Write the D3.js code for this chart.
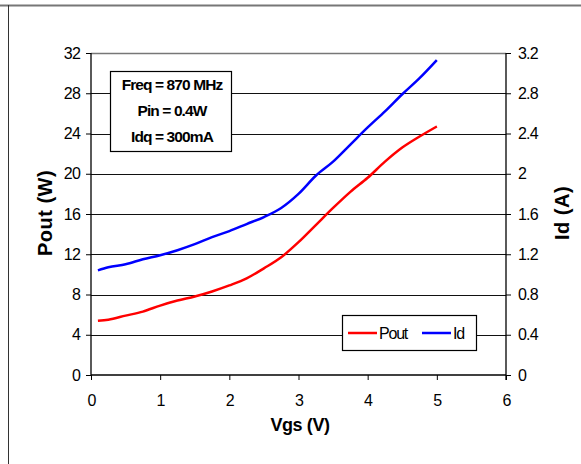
<!DOCTYPE html>
<html>
<head>
<meta charset="utf-8">
<script src="https://d3js.org/d3.v7.min.js"></script>
<style>
body { margin: 0; background: #fff; }
text { font-family: "Liberation Sans", Arial, sans-serif; fill: #000; }
</style>
</head>
<body>
<script>
// Vgs (V) sweep
var vgs  = [0.1, 0.25, 0.5, 0.75, 1.0, 1.25, 1.5, 1.75, 2.0, 2.25, 2.5, 2.75, 3.0, 3.25, 3.5, 3.75, 4.0, 4.25, 4.5, 4.75, 5.0];
// output power, W
var pout = [5.4, 5.5, 5.9, 6.3, 6.9, 7.4, 7.8, 8.3, 8.9, 9.6, 10.6, 11.7, 13.2, 14.9, 16.6, 18.2, 19.6, 21.2, 22.6, 23.7, 24.7];
// drain current, A
var id   = [1.04, 1.07, 1.10, 1.15, 1.19, 1.24, 1.30, 1.37, 1.43, 1.50, 1.57, 1.66, 1.80, 1.98, 2.12, 2.29, 2.46, 2.62, 2.79, 2.95, 3.13];

var xTicks = [0, 1, 2, 3, 4, 5, 6];
var yTicks = [0, 4, 8, 12, 16, 20, 24, 28, 32];
var y2Ticks = [0, 0.4, 0.8, 1.2, 1.6, 2, 2.4, 2.8, 3.2];
var notes = ["Freq = 870 MHz", "Pin = 0.4W", "Idq = 300mA"];
var seriesNames = ["Pout", "Id"];
var seriesColors = ["#ff0000", "#0000ff"];

function draw() {
  "use strict";
  var W = 581, H = 464;
  var pl = 91, pr = 506, pt = 53, pb = 375;

  var svg = d3.select("body").append("svg").attr("width", W).attr("height", H);

  // outer frame pieces
  svg.append("line").attr("x1", 0).attr("x2", W).attr("y1", 5.5).attr("y2", 5.5)
    .attr("stroke", "#777").attr("stroke-width", 2);
  svg.append("line").attr("x1", 8.5).attr("x2", 8.5).attr("y1", 5).attr("y2", H)
    .attr("stroke", "#333").attr("stroke-width", 1);

  var x = d3.scaleLinear().domain([0, 6]).range([pl, pr]);
  var y = d3.scaleLinear().domain([0, 32]).range([pb, pt]);
  var y2 = d3.scaleLinear().domain([0, 3.2]).range([pb, pt]);

  /* gridlines */
  svg.append("g").selectAll("line").data(yTicks.slice(1)).enter().append("line")
    .attr("x1", pl).attr("x2", pr)
    .attr("y1", function(d) { return Math.round(y(d)) + 0.5; })
    .attr("y2", function(d) { return Math.round(y(d)) + 0.5; })
    .attr("stroke", function(d) { return d === 32 ? "#777" : "#111"; })
    .attr("stroke-width", function(d) { return d === 32 ? 1.5 : 1; });

  /* axes */
  var gx = svg.append("g").attr("transform", "translate(0," + pb + ")")
    .call(d3.axisBottom(x).tickValues(xTicks).tickSize(5).tickPadding(15).tickFormat(d3.format("d")));
  var gy = svg.append("g").attr("transform", "translate(" + pl + ",0)")
    .call(d3.axisLeft(y).tickValues(yTicks).tickSize(5).tickPadding(6).tickFormat(d3.format("d")));
  var gy2 = svg.append("g").attr("transform", "translate(" + pr + ",0)")
    .call(d3.axisRight(y2).tickValues(y2Ticks).tickSize(5).tickPadding(7).tickFormat(function(d) { return String(d); }));

  [gx, gy, gy2].forEach(function(g) {
    g.attr("font-size", null).attr("font-family", null);
    g.select(".domain").attr("stroke", "#000").attr("stroke-width", 1.3);
    g.selectAll(".tick line").attr("stroke", "#000");
    g.selectAll(".tick text").style("font-size", "16px").attr("fill", "#000").attr("letter-spacing", "-0.8px");
  });
  gx.select(".domain").attr("d", "M" + pl + ",0H" + pr);
  gy.select(".domain").attr("d", "M0," + pt + "V" + pb);
  gy2.select(".domain").attr("d", "M0," + pt + "V" + (pb + 5));

  /* series */
  var line = function(vals, scale) {
    return d3.line()
      .x(function(d, i) { return x(vgs[i]); })
      .y(function(d) { return scale(d); })
      .curve(d3.curveMonotoneX)(vals);
  };
  svg.append("path").attr("d", line(pout, y)).attr("fill", "none")
    .attr("stroke", seriesColors[0]).attr("stroke-width", 2.5);
  svg.append("path").attr("d", line(id, y2)).attr("fill", "none")
    .attr("stroke", seriesColors[1]).attr("stroke-width", 2.5);

  /* axis titles */
  svg.append("text").attr("x", 300).attr("y", 431).attr("text-anchor", "middle")
    .style("font-size", "18px").style("font-weight", "bold").attr("letter-spacing", "-0.4px")
    .text("Vgs (V)");
  svg.append("text").attr("transform", "translate(52,213) rotate(-90)").attr("text-anchor", "middle")
    .style("font-size", "20px").style("font-weight", "bold").attr("letter-spacing", "0.5px")
    .text("Pout (W)");
  svg.append("text").attr("transform", "translate(569,213) rotate(-90)").attr("text-anchor", "middle")
    .style("font-size", "20px").style("font-weight", "bold").attr("letter-spacing", "0.5px")
    .text("Id (A)");

  /* note box */
  svg.append("rect").attr("x", 110.5).attr("y", 71.5).attr("width", 121).attr("height", 80)
    .attr("fill", "#fff").attr("stroke", "#000").attr("stroke-width", 1.2);
  svg.append("g").selectAll("text").data(notes).enter().append("text")
    .attr("x", 172).attr("y", function(d, i) { return 89.5 + i * 26; })
    .attr("text-anchor", "middle")
    .style("font-size", "15.5px").style("font-weight", "bold").attr("letter-spacing", "-0.9px")
    .text(function(d) { return d; });

  /* legend */
  svg.append("rect").attr("x", 342.5).attr("y", 315.5).attr("width", 134).attr("height", 35)
    .attr("fill", "#fff").attr("stroke", "#000").attr("stroke-width", 1.2);
  var leg = svg.append("g").selectAll("g").data(seriesNames).enter().append("g")
    .attr("transform", function(d, i) { return "translate(" + (348 + i * 74) + ",333)"; });
  leg.append("line").attr("x1", 0).attr("x2", 29).attr("y1", 0).attr("y2", 0)
    .attr("stroke", function(d, i) { return seriesColors[i]; }).attr("stroke-width", 2.5);
  leg.append("text").attr("x", 31).attr("y", 5.5).style("font-size", "16px").attr("letter-spacing", "-1.2px")
    .text(function(d) { return d; });
}

draw();
</script>
</body>
</html>
